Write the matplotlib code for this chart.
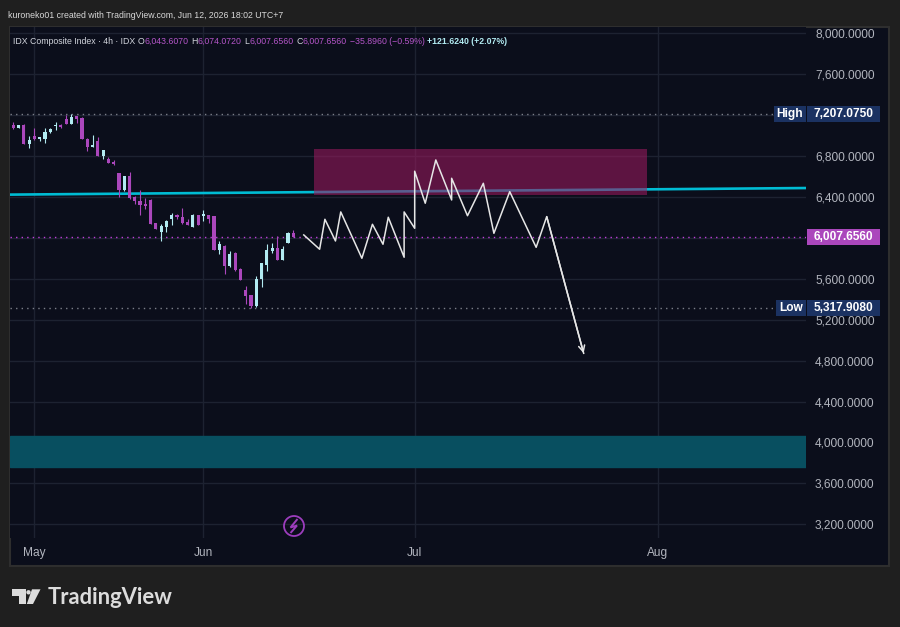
import numpy as np
import matplotlib
matplotlib.use('Agg')
import matplotlib.pyplot as plt
from matplotlib import font_manager
from matplotlib.patches import Rectangle, Circle, Polygon
from matplotlib.transforms import Affine2D, blended_transform_factory

plt.rcParams['font.family'] = ['Liberation Sans', 'DejaVu Sans']

# 4h candles, bar 0 = last bars of April
opens = [7106, 7077, 7103, 6920, 6995, 6969, 6969, 7031, 7090, 7106,
         7161, 7116, 7191, 7171, 6966, 6891, 6946, 6803, 6770, 6744,
         6634, 6467, 6604, 6402, 6360, 6331, 6373, 6145, 6060, 6106,
         6184, 6223, 6203, 6154, 6109, 6223, 6216, 6223, 6213, 5884,
         5920, 5728, 5851, 5695, 5490, 5441, 5333, 5597, 5737, 5871,
         5900, 5786, 5952, 6043.607]
highs = [7132, 7103, 7113, 6995, 7073, 6976, 7073, 7077, 7132, 7116,
         7200, 7207.075, 7191, 7178, 6976, 7005, 6985, 6858, 6790, 6761,
         6634, 6604, 6643, 6409, 6467, 6389, 6383, 6145, 6132, 6174,
         6242, 6233, 6291, 6184, 6233, 6223, 6272, 6223, 6213, 5969,
         5930, 5871, 5861, 5701, 5529, 5441, 5626, 5754, 5939, 5949,
         6018, 5920, 6057, 6074.072]
lows = [7064, 7077, 6917, 6881, 6959, 6950, 6930, 7021, 7057, 7077,
        7116, 7116, 7126, 6966, 6852, 6891, 6803, 6774, 6735, 6715,
        6402, 6458, 6379, 6334, 6226, 6282, 6138, 6089, 5972, 6060,
        6128, 6184, 6138, 6128, 6109, 6128, 6167, 6148, 5884, 5845,
        5649, 5718, 5675, 5591, 5356, 5317.908, 5327, 5522, 5679, 5851,
        5786, 5786, 5952, 6007.656]
closes = [7073, 7103, 6920, 6956, 6966, 6976, 7034, 7064, 7106, 7087,
          7116, 7181, 7161, 6969, 6891, 6910, 6803, 6858, 6735, 6725,
          6467, 6604, 6389, 6363, 6321, 6308, 6138, 6089, 6115, 6164,
          6223, 6200, 6148, 6128, 6223, 6128, 6223, 6187, 5884, 5939,
          5728, 5842, 5682, 5591, 5434, 5333, 5594, 5754, 5881, 5900,
          5786, 5890, 6047, 6007.656]

# projected path (bar index, price)
proj_x = [55, 58, 59, 61, 62, 66, 68, 70, 71, 74, 74, 76, 76, 78, 80, 83,
          83, 86, 89, 91, 94, 99, 101, 108]
proj_y = [6029, 5889, 6182, 5970, 6254, 5801, 6133, 5938, 6202, 5811, 6254,
          6094, 6652, 6339, 6762, 6371, 6583, 6217, 6534, 6045, 6452, 5908,
          6208, 4872]

trend_x = [-1, 151]
trend_y = [6423, 6488]
supply_x = [57, 120]
supply_y = [6420, 6870]
demand_y = [3760, 4065]

high_price = 7207.075
low_price = 5317.908
last_price = 6007.656

month_pos = [4, 36, 76, 122]
month_labels = ['May', 'Jun', 'Jul', 'Aug']
price_ticks = np.arange(3200, 8001, 400)

bg = '#0b0e1b'
grid_c = '#1d2231'
up_c = '#b2ebf2'
down_c = '#ab47bc'
axis_txt = '#b2b5be'

# header font: narrow if we have it
names = {f.name for f in font_manager.fontManager.ttflist}
if 'Liberation Sans Narrow' in names:
    head_fam, head_fs = ['Liberation Sans Narrow', 'DejaVu Sans'], 7.6
else:
    head_fam, head_fs = ['Liberation Sans', 'DejaVu Sans'], 6.3

fig = plt.figure(figsize=(9, 6.27), dpi=100, facecolor='#1f1f1f')
# pixel coords (y from top) -> figure
px = Affine2D().scale(1 / 900, -1 / 627).translate(0, 1) + fig.transFigure

fig.add_artist(Rectangle((10, 27), 879, 539, transform=px, facecolor=bg,
                         edgecolor='#2e2e2e', lw=1.5, zorder=-1))

ax = fig.add_axes([10 / 900, 1 - 538 / 627, 796 / 900, 511 / 627])
ax.set_facecolor(bg)
for s in ax.spines.values():
    s.set_visible(False)
ax.set_xlim(-0.63, 150.1)
ax.set_ylim(3066, 8062)
ax.set_axisbelow(True)

ax.set_xticks(month_pos)
ax.set_xticklabels(month_labels)
ax.set_yticks(price_ticks)
# 6,000 and 7,200 sit under the price tags
ax.set_yticklabels(['' if p in (6000, 7200) else '{:,.4f}'.format(p)
                    for p in price_ticks])
ax.yaxis.tick_right()
ax.tick_params(axis='y', length=0, pad=6.5, labelsize=8.6, labelcolor=axis_txt)
ax.tick_params(axis='x', length=0, pad=6.5, labelsize=8.6, labelcolor=axis_txt)
ax.grid(True, color=grid_c, lw=1)

# zones
ax.axhspan(demand_y[0], demand_y[1], color='#084f60', zorder=1)
ax.plot(trend_x, trend_y, color='#00bcd4', lw=1.9, zorder=2)
ax.add_patch(Rectangle((supply_x[0], supply_y[0]), supply_x[1] - supply_x[0],
                       supply_y[1] - supply_y[0], facecolor='#9a1a5e',
                       alpha=0.58, lw=0, zorder=3))

# dotted price lines
ax.axhline(high_price, color='#7c7f8a', lw=1, ls=(0, (1, 3)), zorder=2)
ax.axhline(low_price, color='#7c7f8a', lw=1, ls=(0, (1, 3)), zorder=2)
ax.axhline(last_price, color='#c13fdc', lw=1, ls=(0, (1, 3)), zorder=2)

# candles
x = np.arange(len(opens))
o = np.array(opens)
c = np.array(closes)
cols = [up_c if cc >= oo else down_c for oo, cc in zip(o, c)]
ax.vlines(x, lows, highs, colors=cols, lw=0.8, zorder=4)
ax.bar(x, np.maximum(np.abs(c - o), 15), bottom=np.minimum(o, c), width=0.6,
       color=cols, lw=0, zorder=5)

# projection
ax.plot(proj_x, proj_y, color='#e6e6e6', lw=1.1, zorder=6)
ax.annotate('', xy=(proj_x[-1], proj_y[-1]), xytext=(proj_x[-2], proj_y[-2]),
            arrowprops=dict(arrowstyle='->', color='#e6e6e6', lw=1.1,
                            mutation_scale=11, shrinkA=0, shrinkB=0), zorder=6)

# price scale labels
bt = blended_transform_factory(px, ax.transData)
h = 16 * 9.778
for price, tag, fc in [(high_price, 'High', '#1b3262'),
                       (low_price, 'Low', '#1b3262'),
                       (last_price, None, '#ab47bc')]:
    ax.add_patch(Rectangle((807, price - h / 2), 73, h, transform=bt,
                           facecolor=fc, lw=0, clip_on=False, zorder=7))
    ax.text(843.5, price, '{:,.4f}'.format(price), transform=bt, color='white',
            fontsize=8.6, fontweight='bold', ha='center', va='center',
            clip_on=False, zorder=8)
    if tag:
        left = 774 if tag == 'High' else 776
        ax.add_patch(Rectangle((left, price - h / 2), 805.7 - left, h,
                               transform=bt, facecolor=fc, lw=0,
                               clip_on=False, zorder=7))
        ax.text((left + 805.7) / 2, price, tag, transform=bt, color='white',
                fontsize=8.6, fontweight='bold', ha='center', va='center',
                clip_on=False, zorder=8)

# header
fig.text(8, 15, 'kuroneko01 created with TradingView.com, Jun 12, 2026 18:02 UTC+7',
         transform=px, color='#d8d8d8', fontsize=head_fs, va='center',
         family=head_fam)

legend = [('IDX Composite Index · 4h · IDX', '#d1d4dc', 0, 'normal'),
          ('O', '#d1d4dc', 2, 'normal'), ('6,043.6070', '#b455c8', 0, 'normal'),
          ('H', '#d1d4dc', 2, 'normal'), ('6,074.0720', '#b455c8', 0, 'normal'),
          ('L', '#d1d4dc', 2, 'normal'), ('6,007.6560', '#b455c8', 0, 'normal'),
          ('C', '#d1d4dc', 2, 'normal'), ('6,007.6560', '#b455c8', 0, 'normal'),
          ('\u221235.8960 (\u22120.59%)', '#b455c8', 2, 'normal'),
          ('+121.6240 (+2.07%)', '#b2ebf2', 2, 'bold')]
prev = fig.text(13, 41, legend[0][0], transform=px, color=legend[0][1],
                fontsize=head_fs, va='center', family=head_fam)
for s, col, gap, w in legend[1:]:
    prev = ax.annotate(s, xy=(1, 0.5), xycoords=prev, xytext=(gap, 0),
                       textcoords='offset points', color=col, fontsize=head_fs,
                       fontweight=w, va='center', ha='left',
                       annotation_clip=False, family=head_fam)

# lightning marker
fig.add_artist(Circle((294, 526), 10, transform=px, fill=False,
                      edgecolor='#9c3dbd', lw=1.3))
fig.add_artist(Polygon([(297.5, 519), (290.5, 527.5), (297, 525.5), (290.5, 533)],
                       closed=False, fill=False, transform=px,
                       edgecolor='#9c3dbd', lw=1.4))

# TradingView logo
logo = '#dcdcdc'
fig.add_artist(Polygon([(11.7, 589.3), (25.7, 589.3), (25.7, 604), (18.7, 604),
                        (18.7, 595.7), (11.7, 595.7)], transform=px,
                       facecolor=logo, lw=0))
fig.add_artist(Circle((28.5, 592.3), 2.2, transform=px, facecolor=logo, lw=0))
fig.add_artist(Polygon([(32, 589.3), (40.5, 589.3), (33, 604), (26.8, 604)],
                       transform=px, facecolor=logo, lw=0))
fig.text(47.5, 597, 'TradingView', transform=px, color=logo, fontsize=15.8,
         fontweight='bold', va='center', family=['Lato', 'DejaVu Sans'])

fig.savefig('out.png', dpi=100, facecolor=fig.get_facecolor())
